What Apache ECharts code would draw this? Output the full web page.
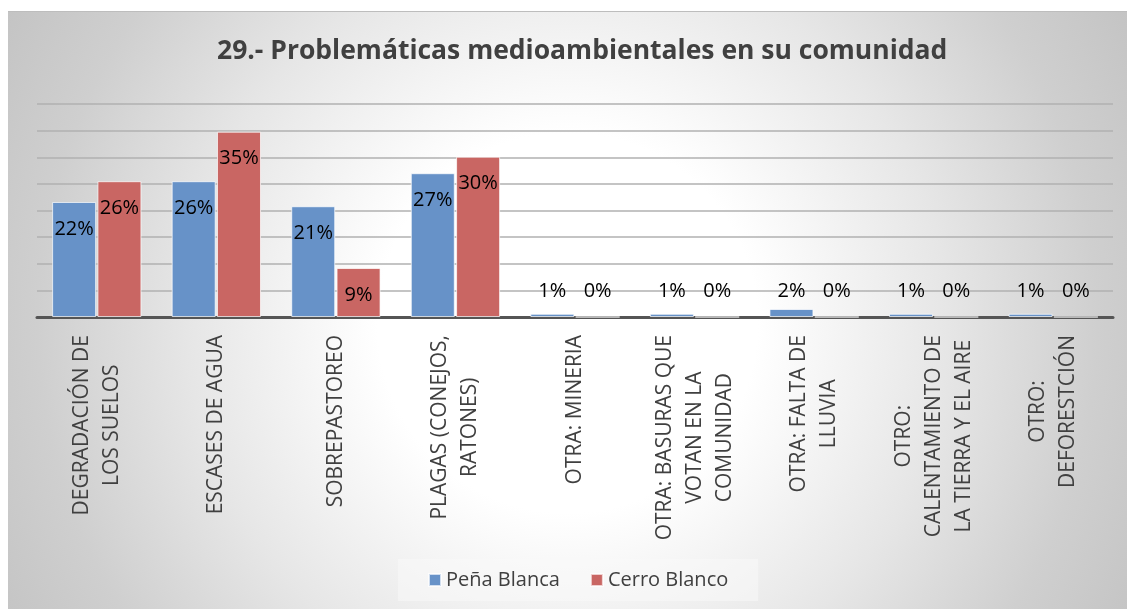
<!DOCTYPE html>
<html><head><meta charset="utf-8">
<script src="https://cdn.jsdelivr.net/npm/echarts@6/dist/echarts.min.js"></script>
<style>
html,body{margin:0;padding:0;background:#fff;overflow:hidden;}
#bg{position:absolute;left:8px;top:11px;width:1119px;height:598px;border-top:1px solid #bdbdbd;
background:radial-gradient(circle at 50% 52%, #ffffff 0px, #ffffff 190px, #e6e6e6 380px, #cfcfcf 530px, #c2c2c2 660px);}
#c{position:absolute;left:0;top:0;width:1127px;height:609px;}
</style></head>
<body><div id="bg"></div><div id="c"></div>
<script>
const categories = [
  "DEGRADACIÓN DE\nLOS SUELOS",
  "ESCASES DE AGUA",
  "SOBREPASTOREO",
  "PLAGAS (CONEJOS,\nRATONES)",
  "OTRA: MINERIA",
  "OTRA: BASURAS QUE\nVOTAN EN LA\nCOMUNIDAD",
  "OTRA: FALTA DE\nLLUVIA",
  "OTRO:\nCALENTAMIENTO DE\nLA TIERRA Y EL AIRE",
  "OTRO:\nDEFORESTCIÓN"
];
const penaBlanca = [0.216, 0.255, 0.208, 0.270, 0.006, 0.006, 0.015, 0.006, 0.006];
const cerroBlanco = [0.255, 0.348, 0.092, 0.301, 0, 0, 0, 0, 0];
const seriesNames = ["Peña Blanca", "Cerro Blanco"];
const titleText = "29.- Problemáticas medioambientales en su comunidad";

const FONT = "'Open Sans', sans-serif";
function toData(arr){
  return arr.map(v => ({
    value: v,
    label: v < 0.05
      ? {position: 'insideBottom', distance: 16}
      : {position: 'insideTop', distance: 17}
  }));
}
const labelStyle = {
  show: true, color: '#000', fontFamily: FONT, fontSize: 20,
  formatter: p => Math.round(p.value * 100) + '%'
};
const chart = echarts.init(document.getElementById('c'));
chart.setOption({
  backgroundColor: 'transparent',
  animation: false,
  title: {
    text: titleText, left: 212, top: 33,
    textStyle: {fontFamily: FONT, fontWeight: 'bold', fontSize: 26.5, color: '#404040'}
  },
  legend: {
    data: seriesNames, bottom: 8, left: 398,
    icon: 'rect', itemWidth: 12, itemHeight: 12, itemGap: 30,
    padding: [11, 30, 11, 30],
    backgroundColor: 'rgba(250,250,250,0.5)',
    textStyle: {fontFamily: FONT, fontSize: 20, color: '#404040'}
  },
  grid: {left: 37, right: 14, top: 104, bottom: 292, containLabel: false},
  xAxis: {
    type: 'category', data: categories,
    axisLine: {lineStyle: {color: '#555', width: 3}},
    axisTick: {show: false},
    axisLabel: {
      rotate: 90, interval: 0, margin: 18,
      formatter: v => v.split('\n').map(l => '{c|' + l + '}').join('\n'),
      rich: {c: {align: 'center', fontFamily: FONT, fontSize: 21, color: '#404040', lineHeight: 30}}
    }
  },
  yAxis: {
    type: 'value', min: 0, max: 0.40, interval: 0.05,
    axisLabel: {show: false}, axisLine: {show: false}, axisTick: {show: false},
    splitLine: {lineStyle: {color: '#b0b0b0', width: 1.5}}
  },
  series: [
    {name: seriesNames[0], type: 'bar', data: toData(penaBlanca), barWidth: 44, barGap: '3%',
     itemStyle: {color: '#6792c8', borderColor: 'rgba(255,255,255,0.7)', borderWidth: 1},
     label: labelStyle},
    {name: seriesNames[1], type: 'bar', data: toData(cerroBlanco), barWidth: 44,
     itemStyle: {color: '#c96663', borderColor: 'rgba(255,255,255,0.7)', borderWidth: 1},
     label: labelStyle}
  ]
});
</script></body></html>
